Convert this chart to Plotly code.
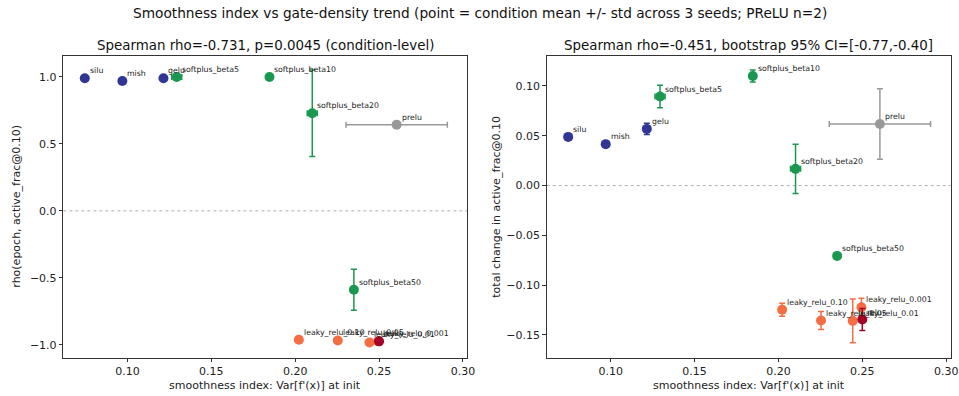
import plotly.graph_objects as go

# ---------------- data ----------------
names = ["silu", "mish", "gelu", "softplus_beta5", "softplus_beta10", "softplus_beta20",
         "softplus_beta50", "leaky_relu_0.10", "leaky_relu_0.05", "leaky_relu_0.01",
         "leaky_relu_0.001", "relu", "prelu"]
families = ["smooth", "smooth", "smooth", "softplus", "softplus", "softplus", "softplus",
            "leaky", "leaky", "leaky", "leaky", "relu", "prelu"]
smooth_mean = [0.0746, 0.0970, 0.1215, 0.1294, 0.1847, 0.2102, 0.2350,
               0.2022, 0.2254, 0.2443, 0.2495, 0.2500, 0.2605]
smooth_std = [0.0005, 0.0005, 0.001, 0.003, 0.001, 0.003, 0.001,
              0.0, 0.0, 0.0, 0.0, 0.0, 0.0302]
rho_mean = [0.99, 0.97, 0.99, 1.00, 1.00, 0.729, -0.590,
            -0.963, -0.968, -0.983, -0.975, -0.975, 0.644]
rho_std = [0.005, 0.01, 0.005, 0.0, 0.0, 0.323, 0.153,
           0.01, 0.01, 0.01, 0.01, 0.01, 0.0]
delta_mean = [0.0489, 0.0416, 0.0569, 0.0894, 0.1100, 0.0168, -0.0706,
              -0.1246, -0.1355, -0.1358, -0.1221, -0.1345, 0.0619]
delta_std = [0.001, 0.001, 0.0057, 0.0113, 0.006, 0.0247, 0.002,
             0.0065, 0.009, 0.022, 0.009, 0.011, 0.0354]
family_colors = {"smooth": "#313695", "softplus": "#1a9850", "leaky": "#f46d43",
                 "relu": "#a50026", "prelu": "#999999"}

suptitle = "Smoothness index vs gate-density trend (point = condition mean +/- std across 3 seeds; PReLU n=2)"
left_title = "Spearman rho=-0.731, p=0.0045 (condition-level)"
right_title = "Spearman rho=-0.451, bootstrap 95% CI=[-0.77,-0.40]"
xlabel = "smoothness index: Var[f'(x)] at init"
left_ylabel = "rho(epoch, active_frac@0.10)"
right_ylabel = "total change in active_frac@0.10"
x_ticks = [0.10, 0.15, 0.20, 0.25, 0.30]
left_yticks = [-1.0, -0.5, 0.0, 0.5, 1.0]
right_yticks = [-0.15, -0.10, -0.05, 0.00, 0.05, 0.10]
zero_level = 0.0

# ---------------- layout geometry ----------------
W, H = 959, 396
FONT = "DejaVu Sans"
x_range = [0.0618, 0.3026]
left_yrange = [-1.097, 1.159]
right_yrange = [-0.1728, 0.1304]
top_px, bot_px = 55.7, 357.7
ydom = [(H - bot_px) / H, (H - top_px) / H]
left_dom = [63.3 / W, 467.3 / W]
right_dom = [546.7 / W, 950.5 / W]

fig = go.Figure()

for panel, (yvals, yerrs) in enumerate([(rho_mean, rho_std), (delta_mean, delta_std)]):
    xa = "x" if panel == 0 else "x2"
    ya = "y" if panel == 0 else "y2"
    for i, n in enumerate(names):
        c = family_colors[families[i]]
        fig.add_trace(go.Scatter(
            x=[smooth_mean[i]], y=[yvals[i]], mode="markers",
            marker=dict(size=10, color=c, line=dict(width=0)),
            error_x=dict(type="data", array=[smooth_std[i]], color=c, thickness=1.5, width=3),
            error_y=dict(type="data", array=[yerrs[i]], color=c, thickness=1.5, width=3),
            xaxis=xa, yaxis=ya, showlegend=False, name=n, hoverinfo="name"))
        fig.add_annotation(x=smooth_mean[i], y=yvals[i], xref=xa, yref=ya, text=n,
                           showarrow=False, xanchor="left", yanchor="bottom",
                           xshift=3, yshift=1, font=dict(family=FONT, size=7.8, color="#222"))

axis_common = dict(showgrid=False, zeroline=False, showline=True, mirror=True,
                   linecolor="#333", linewidth=1, ticks="outside", ticklen=3.5,
                   tickwidth=0.8, tickcolor="#333", automargin=False,
                   tickfont=dict(family=FONT, size=11, color="#222"))

fig.update_layout(
    width=W, height=H, margin=dict(l=0, r=0, t=0, b=0, pad=0),
    paper_bgcolor="white", plot_bgcolor="white",
    font=dict(family=FONT, color="#222"),
    xaxis=dict(domain=left_dom, range=x_range, tickvals=x_ticks, tickformat=".2f",
               anchor="y", **axis_common),
    yaxis=dict(domain=ydom, range=left_yrange, tickvals=left_yticks, tickformat=".1f",
               anchor="x", **axis_common),
    xaxis2=dict(domain=right_dom, range=x_range, tickvals=x_ticks, tickformat=".2f",
                anchor="y2", **axis_common),
    yaxis2=dict(domain=ydom, range=right_yrange, tickvals=right_yticks, tickformat=".2f",
                anchor="x2", **axis_common),
)

for xa, ya in [("x", "y"), ("x2", "y2")]:
    fig.add_shape(type="line", xref=xa + " domain", yref=ya, x0=0, x1=1,
                  y0=zero_level, y1=zero_level,
                  line=dict(color="#999999", width=0.8, dash="dot"), layer="below")

# titles and axis labels
fig.add_annotation(text=suptitle, x=0.5, y=1 - 13 / H, xref="paper", yref="paper",
                   showarrow=False, xanchor="center", yanchor="middle",
                   font=dict(family=FONT, size=13.7, color="#111"))
for dom, t in [(left_dom, left_title), (right_dom, right_title)]:
    fig.add_annotation(text=t, x=(dom[0] + dom[1]) / 2, y=1 - 45 / H, xref="paper",
                       yref="paper", showarrow=False, xanchor="center", yanchor="middle",
                       font=dict(family=FONT, size=13.4, color="#111"))
    fig.add_annotation(text=xlabel, x=(dom[0] + dom[1]) / 2, y=1 - 385 / H, xref="paper",
                       yref="paper", showarrow=False, xanchor="center", yanchor="middle",
                       font=dict(family=FONT, size=11, color="#222"))
fig.add_annotation(text=left_ylabel, x=17 / W, y=(ydom[0] + ydom[1]) / 2, xref="paper",
                   yref="paper", showarrow=False, textangle=-90, xanchor="center",
                   yanchor="middle", font=dict(family=FONT, size=11, color="#222"))
fig.add_annotation(text=right_ylabel, x=497 / W, y=(ydom[0] + ydom[1]) / 2, xref="paper",
                   yref="paper", showarrow=False, textangle=-90, xanchor="center",
                   yanchor="middle", font=dict(family=FONT, size=11, color="#222"))

fig.write_html("out.html")
